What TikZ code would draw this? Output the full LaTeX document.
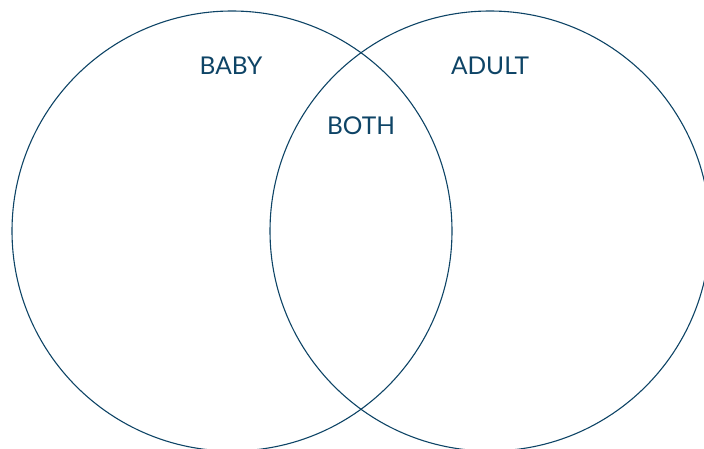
\documentclass[tikz,border=0pt]{standalone}
\usepackage{fontspec}
\setmainfont{Lato}
\definecolor{venn}{RGB}{14,68,102}
\begin{document}
\begin{tikzpicture}[x=1pt,y=1pt,
  ring/.style={draw=venn,line width=1.1pt},
  lbl/.style={text=venn,font=\fontsize{24.5}{24.5}\selectfont,anchor=base,inner sep=0pt}]
\useasboundingbox (0,0) rectangle (704,448);
\clip (0,0) rectangle (704,448);
\draw[ring] (232,217) circle[radius=220];
\draw[ring] (490,217) circle[radius=220];
\node[lbl] (baby) at (231,373) {BABY};
\node[lbl] (adult) at (490,373) {ADULT};
\node[lbl] (both) at (361,313) {BOTH};
\end{tikzpicture}
\end{document}
